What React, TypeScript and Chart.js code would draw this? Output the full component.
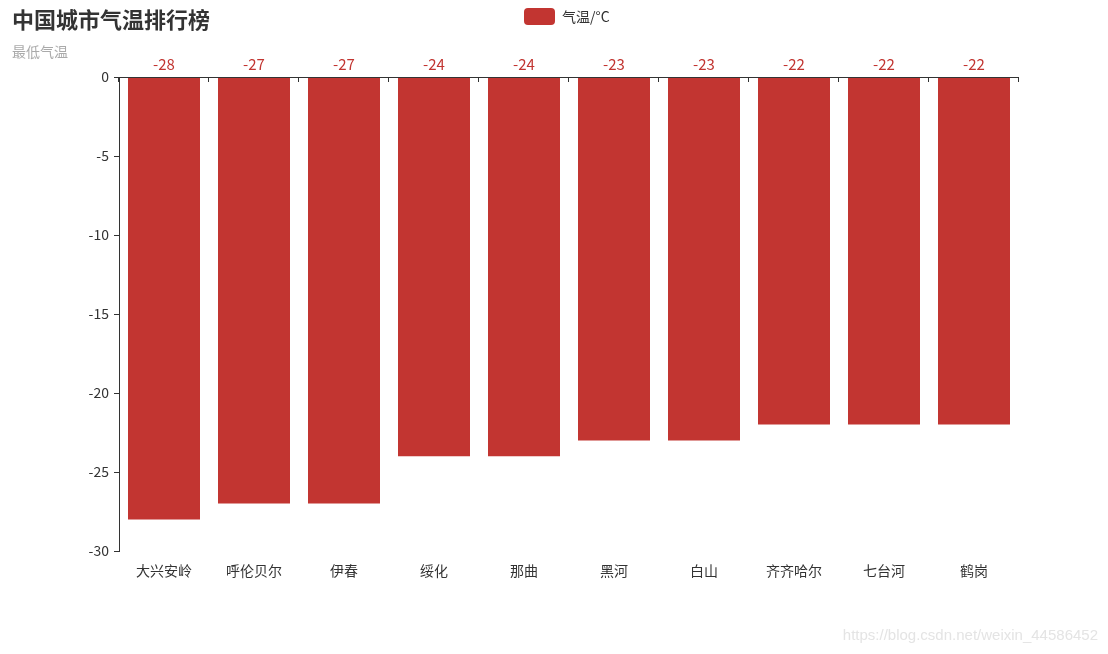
import React, { useEffect, useRef } from 'react';
import Chart from 'chart.js/auto';

const cities = ['大兴安岭', '呼伦贝尔', '伊春', '绥化', '那曲', '黑河', '白山', '齐齐哈尔', '七台河', '鹤岗'];
const minTemps = [-28, -27, -27, -24, -24, -23, -23, -22, -22, -22];
const yTicks = { min: -30, max: 0, step: 5 };

const FONT = '"Noto Sans CJK SC", "Noto Sans", sans-serif';
const RED = '#c23531';

// title, legend, top axis line, value labels, watermark
const decorPlugin = {
  id: 'decor',
  afterDraw(chart: any) {
    const { ctx, chartArea } = chart;
    const x = chart.scales.x;
    const y = chart.scales.y;
    const zeroY = y.getPixelForValue(0);
    ctx.save();

    // title + subtitle
    ctx.textBaseline = 'middle';
    ctx.textAlign = 'left';
    ctx.fillStyle = '#333';
    ctx.font = `bold 22px ${FONT}`;
    ctx.fillText('中国城市气温排行榜', 12, 20);
    ctx.fillStyle = '#aaa';
    ctx.font = `14px ${FONT}`;
    ctx.fillText('最低气温', 12, 52);

    // legend
    const ds = chart.data.datasets[0];
    ctx.fillStyle = ds.backgroundColor;
    ctx.beginPath();
    ctx.roundRect(524, 8, 31, 17, 4);
    ctx.fill();
    ctx.fillStyle = '#333';
    ctx.font = `14px ${FONT}`;
    ctx.fillText(ds.label, 562, 17);

    // category axis line at zero, ticks pointing down
    ctx.strokeStyle = '#333';
    ctx.lineWidth = 1;
    ctx.beginPath();
    ctx.moveTo(chartArea.left, zeroY + 0.5);
    ctx.lineTo(chartArea.right, zeroY + 0.5);
    const n = cities.length;
    for (let i = 0; i <= n; i++) {
      let bx;
      if (i === 0) bx = chartArea.left;
      else if (i === n) bx = chartArea.right;
      else bx = (x.getPixelForValue(i - 1) + x.getPixelForValue(i)) / 2;
      bx = Math.round(bx) - 0.5;
      ctx.moveTo(bx, zeroY);
      ctx.lineTo(bx, zeroY + 5);
    }
    ctx.stroke();

    // value labels
    const meta = chart.getDatasetMeta(0);
    ctx.fillStyle = RED;
    ctx.font = `15px ${FONT}`;
    ctx.textAlign = 'center';
    meta.data.forEach((bar: any, i: number) => {
      ctx.fillText(String(ds.data[i]), bar.x, zeroY - 13);
    });

    // watermark
    ctx.fillStyle = '#e4e4e4';
    ctx.font = '15px "Liberation Sans", Arial, sans-serif';
    ctx.textAlign = 'right';
    ctx.fillText('https://blog.csdn.net/weixin_44586452', 1098, 636);
    ctx.restore();
  },
};

const App: React.FC = () => {
  const canvasRef = useRef<HTMLCanvasElement>(null);

  useEffect(() => {
    if (!canvasRef.current) return;
    const chart = new Chart(canvasRef.current, {
      type: 'bar',
      data: {
        labels: cities,
        datasets: [
          {
            label: '气温/°C',
            data: minTemps,
            backgroundColor: RED,
            barPercentage: 0.8,
            categoryPercentage: 1,
          },
        ],
      },
      options: {
        responsive: false,
        animation: false,
        layout: { padding: { top: 77, right: 89, left: 0, bottom: 0 } },
        plugins: {
          legend: { display: false },
          tooltip: { enabled: false },
        },
        scales: {
          x: {
            border: { display: false },
            grid: { display: false, drawTicks: false },
            ticks: { color: '#333', font: { size: 14, family: FONT }, padding: 11 },
            afterFit: (s: any) => {
              s.height = 103;
            },
          },
          y: {
            min: yTicks.min,
            max: yTicks.max,
            border: { display: true, color: '#333' },
            grid: { drawOnChartArea: false, tickLength: 5, tickColor: '#333' },
            ticks: { stepSize: yTicks.step, color: '#333', font: { size: 14, family: FONT }, padding: 5 },
            afterFit: (s: any) => {
              s.width = 119;
            },
          },
        },
      },
      plugins: [decorPlugin],
    });
    return () => chart.destroy();
  }, []);

  return (
    <div style={{ position: 'absolute', left: 0, top: 0, width: 1108, height: 654, background: '#fff' }}>
      <canvas ref={canvasRef} width={1108} height={654} />
    </div>
  );
};

export default App;
